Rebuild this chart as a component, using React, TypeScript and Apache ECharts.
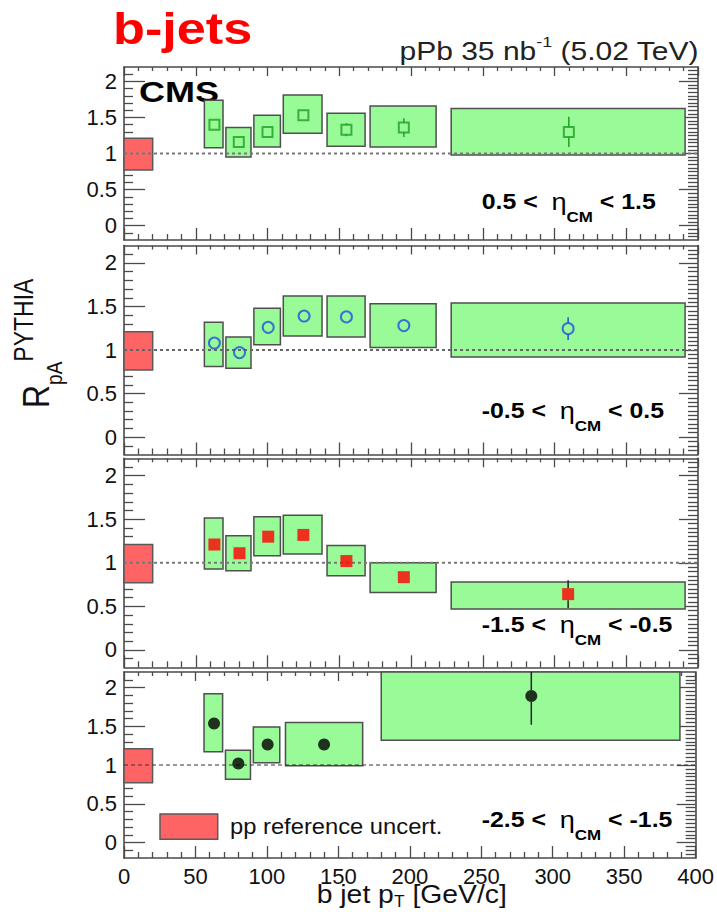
import React, { useEffect, useRef } from 'react';
import * as echarts from 'echarts';

// ---- axes ----
const PT_RANGE = [0, 400];
const R_RANGE = [-0.2, 2.2];
const PT_MAJOR = [0, 50, 100, 150, 200, 250, 300, 350, 400];
const R_MAJOR = [0, 0.5, 1, 1.5, 2];
const UNITY = 1;

// ---- pp reference uncertainty band ----
const PP_REF_PT = [0, 20];
const PP_REF_R = [0.77, 1.21];

// ---- 0.5 < eta_CM < 1.5 ----
const FWD_PT = [63, 80, 100, 125, 155, 195, 310];
const FWD_R = [1.4, 1.16, 1.3, 1.53, 1.33, 1.36, 1.3];
const FWD_STAT = [0.04, 0.04, 0.04, 0.05, 0.09, 0.13, 0.21];
const FWD_BIN_LO = [56, 71, 90.5, 111, 141.5, 171.5, 228];
const FWD_BIN_HI = [69, 88.5, 109, 138, 168, 217.5, 391];
const FWD_SYS_LO = [1.08, 0.95, 1.09, 1.28, 1.1, 1.09, 0.98];
const FWD_SYS_HI = [1.74, 1.36, 1.53, 1.81, 1.56, 1.66, 1.625];

// ---- -0.5 < eta_CM < 0.5 ----
const MID_PT = [63, 80.5, 100.5, 125.5, 155, 195, 309.5];
const MID_R = [1.08, 0.97, 1.26, 1.39, 1.38, 1.28, 1.245];
const MID_STAT = [0.03, 0.03, 0.03, 0.03, 0.04, 0.05, 0.13];
const MID_BIN_LO = [56, 71, 90.5, 111, 141.5, 171.5, 228];
const MID_BIN_HI = [69, 88.5, 109, 138, 168, 217.5, 391];
const MID_SYS_LO = [0.81, 0.79, 1.06, 1.16, 1.15, 1.03, 0.92];
const MID_SYS_HI = [1.32, 1.15, 1.48, 1.62, 1.62, 1.53, 1.54];

// ---- -1.5 < eta_CM < -0.5 ----
const BWD_PT = [63, 80.5, 100.5, 125, 155, 195, 309.5];
const BWD_R = [1.21, 1.11, 1.3, 1.32, 1.02, 0.835, 0.64];
const BWD_STAT = [0.03, 0.03, 0.03, 0.03, 0.05, 0.06, 0.16];
const BWD_BIN_LO = [56, 71, 90.5, 111, 141.5, 171.5, 228];
const BWD_BIN_HI = [69, 88.5, 109, 138, 168, 217.5, 391];
const BWD_SYS_LO = [0.93, 0.91, 1.08, 1.1, 0.85, 0.66, 0.47];
const BWD_SYS_HI = [1.515, 1.31, 1.53, 1.546, 1.2, 1.0, 0.78];

// ---- -2.5 < eta_CM < -1.5 ----
const FAR_PT = [63, 80, 100.5, 140, 285];
const FAR_R = [1.535, 1.02, 1.265, 1.265, 1.89];
const FAR_STAT = [0.06, 0.07, 0.07, 0.07, 0.37];
const FAR_BIN_LO = [56, 71, 90.5, 113, 180];
const FAR_BIN_HI = [69, 88.5, 109, 167, 389];
const FAR_SYS_LO = [1.17, 0.815, 1.03, 0.99, 1.32];
const FAR_SYS_HI = [1.92, 1.19, 1.49, 1.55, 2.46];

const ETA_LO = ['0.5', '-0.5', '-1.5', '-2.5'];
const ETA_HI = ['1.5', '0.5', '-0.5', '-1.5'];

const FONT = "'Liberation Sans', Arial, Helvetica, sans-serif";
const FRAME = '#4a4a4a';
const BOX_FILL = '#98fb98';
const BOX_EDGE = '#4f4f4f';
const REF_FILL = '#ff6464';
const REF_EDGE = '#5a5a5a';

type Panel = {
  pt: number[]; r: number[]; stat: number[];
  binLo: number[]; binHi: number[]; sysLo: number[]; sysHi: number[];
  symbol: string; size: number; hollow: boolean; color: string; barColor: string;
  top: number; height: number; labelY: number;
  dash: number[]; dashWidth: number; dashColor: string;
};

const PANELS: Panel[] = [
  { pt: FWD_PT, r: FWD_R, stat: FWD_STAT, binLo: FWD_BIN_LO, binHi: FWD_BIN_HI, sysLo: FWD_SYS_LO, sysHi: FWD_SYS_HI,
    symbol: 'rect', size: 10, hollow: true, color: '#1f9f1f', barColor: '#1f9f1f',
    top: 67, height: 173, labelY: 201.7, dash: [3, 3], dashWidth: 2, dashColor: '#777' },
  { pt: MID_PT, r: MID_R, stat: MID_STAT, binLo: MID_BIN_LO, binHi: MID_BIN_HI, sysLo: MID_SYS_LO, sysHi: MID_SYS_HI,
    symbol: 'circle', size: 11, hollow: true, color: '#2350e0', barColor: '#2350e0',
    top: 245.5, height: 209, labelY: 410.7, dash: [3, 3], dashWidth: 2.2, dashColor: '#666' },
  { pt: BWD_PT, r: BWD_R, stat: BWD_STAT, binLo: BWD_BIN_LO, binHi: BWD_BIN_HI, sysLo: BWD_SYS_LO, sysHi: BWD_SYS_HI,
    symbol: 'rect', size: 12, hollow: false, color: '#ff0000', barColor: '#222',
    top: 458.3, height: 209, labelY: 625, dash: [3, 3], dashWidth: 2, dashColor: '#777' },
  { pt: FAR_PT, r: FAR_R, stat: FAR_STAT, binLo: FAR_BIN_LO, binHi: FAR_BIN_HI, sysLo: FAR_SYS_LO, sysHi: FAR_SYS_HI,
    symbol: 'circle', size: 12, hollow: false, color: '#000', barColor: '#222',
    top: 672, height: 186, labelY: 820, dash: [4, 3], dashWidth: 1, dashColor: '#333' },
];

// minor tick positions
const PT_MINOR: number[] = [];
for (let v = 10; v < 400; v += 10) if (v % 50 !== 0) PT_MINOR.push(v);
const R_MINOR_LEFT: number[] = [];
for (let k = -1; k <= 21; k++) if (k % 5 !== 0) R_MINOR_LEFT.push(k / 10);
const R_MINOR_RIGHT: number[] = [];
for (let k = -3; k <= 43; k++) if (k % 10 !== 0) R_MINOR_RIGHT.push(k / 20);

const tickStyle = { color: FRAME, width: 1.3 };

function axesFor(i: number) {
  const xBase = {
    type: 'value', gridIndex: i, min: PT_RANGE[0], max: PT_RANGE[1],
    splitLine: { show: false }, axisLine: { show: false, onZero: false },
  };
  const yBase = {
    type: 'value', gridIndex: i, min: R_RANGE[0], max: R_RANGE[1],
    splitLine: { show: false }, axisLine: { show: false, onZero: false },
  };
  const line = { show: true, onZero: false, lineStyle: { color: FRAME, width: 1.6 } };
  const none = { show: false };
  const x = [
    { ...xBase, position: 'bottom', axisLine: line,
      axisTick: { inside: true, length: 12, customValues: PT_MAJOR, lineStyle: tickStyle },
      axisLabel: { show: i === 3, customValues: PT_MAJOR, margin: 7, fontSize: 22, color: '#111', fontFamily: FONT } },
    { ...xBase, position: 'bottom', axisTick: { inside: true, length: 6, customValues: PT_MINOR, lineStyle: tickStyle }, axisLabel: none },
    { ...xBase, position: 'top', axisLine: line,
      axisTick: { inside: true, length: 9, customValues: PT_MAJOR, lineStyle: tickStyle }, axisLabel: none },
    { ...xBase, position: 'top', axisTick: { inside: true, length: 4, customValues: PT_MINOR, lineStyle: tickStyle }, axisLabel: none },
  ];
  const y = [
    { ...yBase, position: 'left', axisLine: line,
      axisTick: { inside: true, length: 21, customValues: R_MAJOR, lineStyle: tickStyle },
      axisLabel: { customValues: R_MAJOR, margin: 7, fontSize: 22, color: '#111', fontFamily: FONT,
        formatter: (v: number) => String(v) } },
    { ...yBase, position: 'left', axisTick: { inside: true, length: 9, customValues: R_MINOR_LEFT, lineStyle: tickStyle }, axisLabel: none },
    { ...yBase, position: 'right', axisLine: line,
      axisTick: { inside: true, length: 19, customValues: R_MAJOR, lineStyle: tickStyle }, axisLabel: none },
    { ...yBase, position: 'right', axisTick: { inside: true, length: 10, customValues: R_MINOR_RIGHT, lineStyle: tickStyle }, axisLabel: none },
  ];
  return { x, y };
}

const boxRenderer = (fill: string, stroke: string) => (params: any, api: any) => {
  const p0 = api.coord([api.value(0), api.value(3)]);
  const p1 = api.coord([api.value(1), api.value(2)]);
  const cs = params.coordSys;
  const shape = echarts.graphic.clipRectByRect(
    { x: p0[0], y: p0[1], width: p1[0] - p0[0], height: p1[1] - p0[1] },
    { x: cs.x, y: cs.y, width: cs.width, height: cs.height }
  );
  if (!shape) return null;
  return { type: 'rect', shape, style: { fill, stroke, lineWidth: 1.5 } };
};

const errRenderer = (color: string, gap: number) => (params: any, api: any) => {
  const x = api.value(0), y = api.value(1), e = api.value(2);
  const hi = api.coord([x, y + e]);
  const mid = api.coord([x, y]);
  const lo = api.coord([x, y - e]);
  const cs = params.coordSys;
  const yHi = Math.max(hi[1], cs.y);
  const yLo = Math.min(lo[1], cs.y + cs.height);
  const children: any[] = [];
  if (mid[1] - gap > yHi)
    children.push({ type: 'line', shape: { x1: mid[0], y1: yHi, x2: mid[0], y2: mid[1] - gap }, style: { stroke: color, lineWidth: 1.5 } });
  if (yLo > mid[1] + gap)
    children.push({ type: 'line', shape: { x1: mid[0], y1: mid[1] + gap, x2: mid[0], y2: yLo }, style: { stroke: color, lineWidth: 1.5 } });
  return { type: 'group', children };
};

// ---- text with sub/superscripts: pieces laid out one after another ----
type Piece = { text: string; size: number; weight?: string; dy?: number };

let measureCtx: CanvasRenderingContext2D | null = null;
function textWidth(p: Piece) {
  if (!measureCtx) measureCtx = document.createElement('canvas').getContext('2d');
  if (!measureCtx) return p.text.length * p.size * 0.55;
  measureCtx.font = `${p.weight || 'normal'} ${p.size}px ${FONT}`;
  return measureCtx.measureText(p.text).width;
}

function scripted(
  pieces: Piece[],
  opts: { x: number; y: number; scaleX?: number; scaleY?: number; rotation?: number; anchor?: 'left' | 'right'; fill?: string }
) {
  const widths = pieces.map(textWidth);
  const total = widths.reduce((a, b) => a + b, 0);
  const s = opts.scaleX || 1;
  let cx = 0;
  const children = pieces.map((p, k) => {
    const el = {
      type: 'text', x: cx, y: p.dy || 0,
      style: {
        text: p.text, fontSize: p.size, fontWeight: p.weight || 'normal', fontFamily: FONT,
        fill: opts.fill || '#111', align: 'left', verticalAlign: 'middle',
      },
    };
    cx += widths[k];
    return el;
  });
  const gx = opts.anchor === 'right' ? opts.x - total * s : opts.x;
  return {
    type: 'group', x: gx, y: opts.y, scaleX: s, scaleY: opts.scaleY || 1,
    rotation: opts.rotation || 0, children,
  };
}

function buildOption() {
  const grid: any[] = [];
  const xAxis: any[] = [];
  const yAxis: any[] = [];
  const series: any[] = [];

  PANELS.forEach((p, i) => {
    grid.push({ left: 124, right: 19, top: p.top, height: p.height });
    const ax = axesFor(i);
    xAxis.push(...ax.x);
    yAxis.push(...ax.y);
    const idx = { xAxisIndex: 4 * i, yAxisIndex: 4 * i };

    series.push({
      type: 'custom', ...idx, silent: true, z: 2,
      encode: { x: [0, 1], y: [2, 3] },
      renderItem: boxRenderer(BOX_FILL, BOX_EDGE),
      data: p.pt.map((_, k) => [p.binLo[k], p.binHi[k], p.sysLo[k], p.sysHi[k]]),
    });
    series.push({
      type: 'custom', ...idx, silent: true, z: 2,
      encode: { x: [0, 1], y: [2, 3] },
      renderItem: boxRenderer(REF_FILL, REF_EDGE),
      data: [[PP_REF_PT[0], PP_REF_PT[1], PP_REF_R[0], PP_REF_R[1]]],
    });
    series.push({
      type: 'line', ...idx, silent: true, z: 3, symbol: 'none',
      lineStyle: { color: p.dashColor, width: p.dashWidth, type: p.dash },
      data: [[PT_RANGE[0], UNITY], [PT_RANGE[1], UNITY]],
    });
    series.push({
      type: 'custom', ...idx, silent: true, z: 4,
      encode: { x: 0, y: 1 },
      renderItem: errRenderer(p.barColor, p.size / 2),
      data: p.pt.map((x, k) => [x, p.r[k], p.stat[k]]),
    });
    series.push({
      type: 'scatter', ...idx, silent: true, z: 5,
      symbol: p.symbol, symbolSize: p.size,
      itemStyle: p.hollow
        ? { color: 'rgba(0,0,0,0)', borderColor: p.color, borderWidth: 2 }
        : { color: p.color },
      data: p.pt.map((x, k) => [x, p.r[k]]),
    });
  });

  const graphic: any[] = [
    { type: 'text', x: 113, y: 28, scaleX: 1.16,
      style: { text: 'b-jets', fill: '#ff0000', fontSize: 45, fontWeight: 'bold', fontFamily: FONT, align: 'left', verticalAlign: 'middle' } },
    scripted(
      [{ text: 'pPb 35 nb', size: 25 }, { text: '-1', size: 15, dy: -9 }, { text: ' (5.02 TeV)', size: 25 }],
      { x: 699, y: 51, scaleX: 1.2, anchor: 'right', fill: '#222' }
    ),
    { type: 'text', x: 139, y: 92, scaleX: 1.2,
      style: { text: 'CMS', fill: '#000', fontSize: 30, fontWeight: 'bold', fontFamily: FONT, align: 'left', verticalAlign: 'middle' } },
    scripted(
      [{ text: 'R', size: 32 }, { text: 'pA', size: 19, dy: 15 }, { text: 'PYTHIA', size: 23, dy: -11 }],
      { x: 36, y: 408, rotation: Math.PI / 2, scaleY: 1.18 }
    ),
    scripted(
      [{ text: 'b jet p', size: 26 }, { text: 'T', size: 16, dy: 8 }, { text: ' [GeV/c]', size: 26 }],
      { x: 316.7, y: 894, scaleX: 1.09 }
    ),
    { type: 'rect', shape: { x: 160, y: 814, width: 57.7, height: 25.3 },
      style: { fill: REF_FILL, stroke: REF_EDGE, lineWidth: 1.5 } },
    { type: 'text', x: 230, y: 826, scaleX: 1.08,
      style: { text: 'pp reference uncert.', fill: '#111', fontSize: 22, fontFamily: FONT, align: 'left', verticalAlign: 'middle' } },
  ];

  PANELS.forEach((p, i) => {
    graphic.push(
      scripted(
        [
          { text: `${ETA_LO[i]} <  `, size: 22, weight: 'bold' },
          { text: 'η', size: 24 },
          { text: 'CM', size: 15, weight: 'bold', dy: 15 },
          { text: ` < ${ETA_HI[i]}`, size: 22, weight: 'bold' },
        ],
        { x: 481.7, y: p.labelY, scaleX: 1.13, fill: '#000' }
      )
    );
  });

  return {
    animation: false,
    backgroundColor: '#fff',
    grid, xAxis, yAxis, series, graphic,
  };
}

export default function App() {
  const ref = useRef<HTMLDivElement>(null);
  useEffect(() => {
    const chart = echarts.init(ref.current!, null, { renderer: 'svg' });
    chart.setOption(buildOption() as any);
    return () => chart.dispose();
  }, []);
  return (
    <div
      ref={ref}
      style={{ position: 'absolute', left: 0, top: 0, width: 717, height: 912, background: '#fff' }}
    />
  );
}
